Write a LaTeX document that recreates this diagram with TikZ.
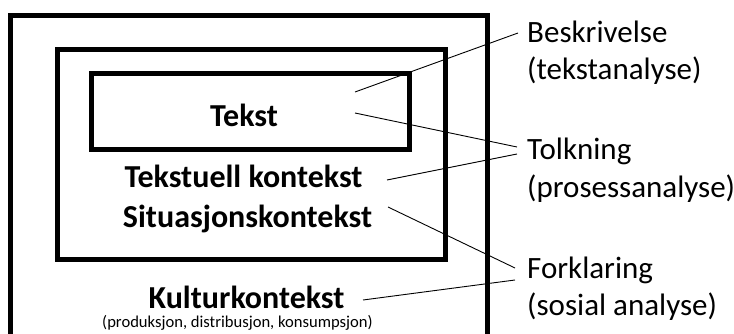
\documentclass[tikz,border=0pt]{standalone}
\usepackage{fontspec}
\setmainfont{Carlito}
\begin{document}
\begin{tikzpicture}[x=1pt,y=-1pt,
  frame/.style={draw=black,line width=5pt},
  boxlabel/.style={font=\fontsize{32}{38}\selectfont\bfseries,anchor=base,inner sep=0pt},
  sidelabel/.style={font=\fontsize{31}{37}\selectfont,anchor=base west,inner sep=0pt},
  smalllabel/.style={font=\fontsize{16.6}{20}\selectfont,anchor=base,inner sep=0pt},
  pointer/.style={draw=black,line width=0.9pt}]
\useasboundingbox (0,0) rectangle (734,334);
\begin{scope}
  \clip (0,0) rectangle (734,334);
  % nested context frames
  \draw[frame] (10.5,15.5) rectangle (487.5,360);
  \draw[frame] (57.5,49.5) rectangle (445.5,259.5);
  \draw[frame] (91.5,73.5) rectangle (409.5,149.5);
\end{scope}
% labels inside the frames
\node[boxlabel] (tekst) at (244,127) {Tekst};
\node[boxlabel] (tekstuell) at (243.5,188) {Tekstuell kontekst};
\node[boxlabel] (situasjon) at (247.5,227) {Situasjonskontekst};
\node[boxlabel] (kultur) at (246.5,308) {Kulturkontekst};
\node[smalllabel] (kulturnote) at (237.5,327) {(produksjon, distribusjon, konsumpsjon)};
% analysis levels
\node[sidelabel] (besk) at (527,43) {Beskrivelse};
\node[sidelabel] (beskb) at (527,80) {(tekstanalyse)};
\node[sidelabel] (tolk) at (527,160) {Tolkning};
\node[sidelabel] (tolkb) at (527,197) {(prosessanalyse)};
\node[sidelabel] (fork) at (527,278) {Forklaring};
\node[sidelabel] (forkb) at (527,315) {(sosial analyse)};
% pointer ends
\coordinate (pBesk) at (518,33);
\coordinate (pTolkA) at (517,147);
\coordinate (pTolkB) at (517,154);
\coordinate (pForkA) at (515,268);
\coordinate (pForkB) at (515,280);
\coordinate (qTekstA) at (355,92);
\coordinate (qTekstB) at (355,113);
\coordinate (qTekstuell) at (387,180);
\coordinate (qSituasjon) at (388,207);
\coordinate (qKultur) at (363,300);
% pointers
\draw[pointer] (pBesk) -- (qTekstA);
\draw[pointer] (pTolkA) -- (qTekstB);
\draw[pointer] (pTolkB) -- (qTekstuell);
\draw[pointer] (pForkA) -- (qSituasjon);
\draw[pointer] (pForkB) -- (qKultur);
\end{tikzpicture}
\end{document}
